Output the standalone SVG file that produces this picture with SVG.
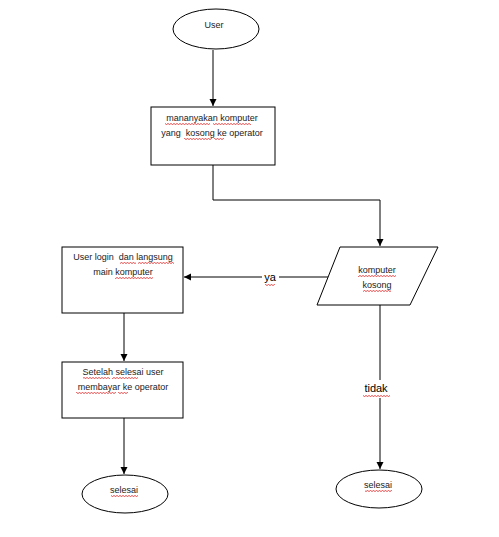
<svg xmlns="http://www.w3.org/2000/svg" width="499" height="537" viewBox="0 0 499 537">
<style>
.s{fill:#fff;stroke:#000;stroke-width:1}
.t{font-family:"Liberation Sans",Arial,sans-serif;font-size:9px;fill:#222;text-anchor:middle}
.l{font-family:"Liberation Sans",Arial,sans-serif;font-size:11px;fill:#000;text-anchor:middle}
.c{fill:none;stroke:#000;stroke-width:1}
.w{fill:url(#sq)}
</style>
<defs>
<marker id="ah" markerWidth="8" markerHeight="8" refX="7" refY="4" orient="auto" markerUnits="userSpaceOnUse">
<path d="M0,0.5 L7,4 L0,7.5 Z" fill="#000"/>
</marker>
<pattern id="sq" width="3" height="2" patternUnits="userSpaceOnUse">
<path d="M0,1.5 L1.5,0.5 L3,1.5" fill="none" stroke="#d00" stroke-width="0.7"/>
</pattern>
</defs>
<rect width="499" height="537" fill="#fff"/>
<g id="connectors">
<path class="c" d="M213,50 V106" marker-end="url(#ah)"/>
<path class="c" d="M213,165 V200 H380 V246" marker-end="url(#ah)"/>
<path class="c" d="M330,277 H279"/>
<path class="c" d="M262,277 H184" marker-end="url(#ah)"/>
<path class="c" d="M124,313 V361" marker-end="url(#ah)"/>
<path class="c" d="M124,418 V474" marker-end="url(#ah)"/>
<path class="c" d="M380,305 V380"/>
<path class="c" d="M380,398 V469" marker-end="url(#ah)"/>
<text class="l" x="270" y="281">ya</text>
<rect class="w" x="265" y="284" width="10" height="2"/>
<text class="l" x="376" y="392">tidak</text>
<rect class="w" x="363" y="395" width="27" height="2"/>
</g>
<g id="user">
<ellipse class="s" cx="216" cy="29" rx="43" ry="20"/>
<text class="t" x="214" y="28">User</text>
</g>
<g id="tanya">
<rect class="s" x="151" y="107" width="124" height="58"/>
<text class="t" x="212" y="121">mananyakan komputer</text>
<text class="t" x="212" y="136">yang&#160; kosong ke operator</text>
<rect class="w" x="165" y="123" width="45" height="2"/>
<rect class="w" x="213" y="123" width="38" height="2"/>
<rect class="w" x="184" y="138" width="28" height="2"/>
<rect class="w" x="214" y="138" width="10" height="2"/>
</g>
<g id="kosong">
<polygon class="s" points="340,247 438,247 410,305 317,305"/>
<text class="t" x="377" y="273">komputer</text>
<text class="t" x="377" y="288">kosong</text>
<rect class="w" x="358" y="275" width="38" height="2"/>
<rect class="w" x="363" y="290" width="28" height="2"/>
</g>
<g id="login">
<rect class="s" x="62" y="247" width="121" height="66"/>
<text class="t" x="123" y="260">User login&#160; dan langsung</text>
<text class="t" x="123" y="275">main komputer</text>
<rect class="w" x="120" y="262" width="16" height="2"/>
<rect class="w" x="138" y="262" width="36" height="2"/>
<rect class="w" x="115" y="277" width="38" height="2"/>
</g>
<g id="bayar">
<rect class="s" x="62" y="362" width="121" height="56"/>
<text class="t" x="123" y="375">Setelah selesai user</text>
<text class="t" x="123" y="390">membayar ke operator</text>
<rect class="w" x="83" y="377" width="27" height="2"/>
<rect class="w" x="112" y="377" width="26" height="2"/>
<rect class="w" x="76" y="392" width="40" height="2"/>
<rect class="w" x="118" y="392" width="10" height="2"/>
</g>
<g id="selesai1">
<ellipse class="s" cx="125" cy="494" rx="43" ry="19"/>
<text class="t" x="124" y="493">selesai</text>
<rect class="w" x="111" y="495" width="27" height="2"/>
</g>
<g id="selesai2">
<ellipse class="s" cx="379" cy="489" rx="43" ry="19"/>
<text class="t" x="378" y="488">selesai</text>
<rect class="w" x="365" y="490" width="27" height="2"/>
</g>
</svg>
